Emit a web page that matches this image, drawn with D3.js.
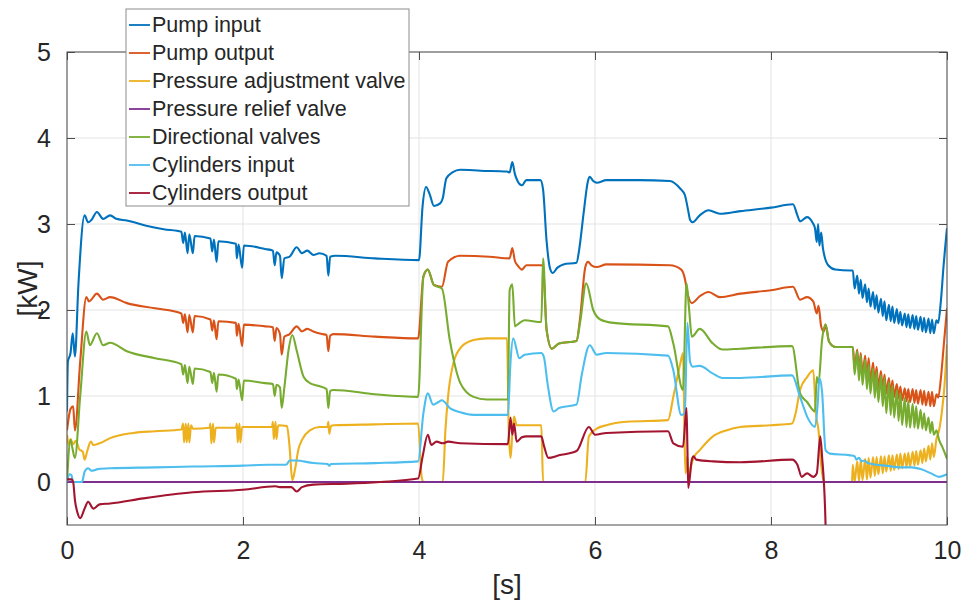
<!DOCTYPE html>
<html>
<head>
<meta charset="utf-8">
<script src="https://cdn.jsdelivr.net/npm/d3@7"></script>
<style>
  body { margin: 0; background: #fff; }
  svg { display: block; font-family: "Liberation Sans", Arial, sans-serif; }
</style>
</head>
<body>
<script>
var width = 967
var height = 608
var margin = { top: 52, right: 20, bottom: 83, left: 67 }

// series names and MATLAB default colours
var seriesNames = ['Pump input', 'Pump output', 'Pressure adjustment valve', 'Pressure relief valve',
                   'Directional valves', 'Cylinders input', 'Cylinders output']
var seriesColors = ['#0072BD', '#D95319', '#EDB120', '#7E2F8E', '#77AC30', '#4DBEEE', '#A2142F']

var xTicks = [0, 2, 4, 6, 8, 10]
var yTicks = [0, 1, 2, 3, 4, 5]

// time samples of the oscillating section (s)
var oscT = [8.93, 8.95, 8.98, 9.0, 9.02, 9.04, 9.07, 9.09, 9.11, 9.13, 9.16, 9.18, 9.2, 9.22, 9.25,
            9.27, 9.29, 9.31, 9.34, 9.36, 9.38, 9.4, 9.43, 9.45, 9.47, 9.49, 9.52, 9.54, 9.56, 9.58,
            9.61, 9.63, 9.65, 9.67, 9.7, 9.72, 9.74, 9.76, 9.79, 9.81, 9.83, 9.85, 9.88]

// [s, kW]
var pumpInput = [[0,0.82],[0.01,1.4],[0.04,1.5],[0.065,1.73],[0.09,1.46],[0.13,2.3],[0.2,3.1],[0.24,3.02],
  [0.28,3.05],[0.34,3.14],[0.41,3.06],[0.49,3.1],[0.56,3.06],[0.68,3.04],[0.9,2.98],[1.1,2.94],[1.3,2.91],
  [1.32,2.78],[1.34,2.9],[1.37,2.66],[1.39,2.88],[1.43,2.66],[1.45,2.86],[1.63,2.83],[1.65,2.68],[1.67,2.82],
  [1.7,2.56],[1.72,2.8],[1.92,2.77],[1.93,2.6],[1.95,2.76],[1.99,2.49],[2.01,2.75],[2.25,2.71],[2.34,2.69],
  [2.36,2.52],[2.38,2.67],[2.42,2.63],[2.44,2.37],[2.47,2.6],[2.53,2.62],[2.61,2.73],[2.67,2.66],[2.73,2.69],
  [2.8,2.64],[2.87,2.66],[2.95,2.63],[2.97,2.4],[2.99,2.62],[3.05,2.63],[3.5,2.6],[4.0,2.58],[4.04,3.2],
  [4.08,3.43],[4.12,3.35],[4.17,3.21],[4.24,3.24],[4.27,3.3],[4.31,3.53],[4.38,3.6],[4.47,3.63],[4.7,3.62],
  [5.0,3.61],[5.03,3.6],[5.06,3.72],[5.09,3.58],[5.12,3.5],[5.17,3.45],[5.22,3.51],[5.38,3.51],[5.41,3.4],
  [5.45,2.8],[5.49,2.48],[5.52,2.43],[5.57,2.49],[5.64,2.53],[5.79,2.55],[5.82,2.7],[5.87,3.12],[5.92,3.5],
  [5.94,3.55],[5.98,3.5],[6.02,3.48],[6.13,3.51],[6.5,3.51],[6.85,3.5],[6.97,3.41],[7.02,3.34],[7.06,3.15],
  [7.08,3.05],[7.11,3.02],[7.19,3.1],[7.29,3.16],[7.42,3.12],[7.65,3.15],[8.0,3.19],[8.25,3.23],[8.3,3.1],
  [8.33,3.03],[8.41,3.08],[8.47,3.02],[8.5,2.95],[8.52,2.79],[8.535,3.0],[8.55,2.75],[8.57,2.9],[8.59,2.72],
  [8.65,2.52],[8.73,2.47],[8.9,2.46]]
var pumpInputOsc = [2.46, 2.25, 2.4, 2.19, 2.35, 2.14, 2.3, 2.09, 2.25, 2.04, 2.21, 2.01, 2.17, 1.97, 2.13,
  1.93, 2.1, 1.88, 2.06, 1.87, 2.04, 1.85, 2.01, 1.84, 1.98, 1.82, 1.96, 1.8, 1.95, 1.79, 1.94, 1.78, 1.93,
  1.77, 1.92, 1.75, 1.91, 1.74, 1.9, 1.73, 1.89, 1.73, 1.88]
var pumpInputEnd = [[9.9,1.85],[9.93,2.1],[9.96,2.5],[10,2.95]]

var pumpOutput = [[0,0.6],[0.04,0.85],[0.07,0.88],[0.09,0.6],[0.15,1.4],[0.22,2.15],[0.25,2.1],[0.34,2.19],
  [0.41,2.12],[0.49,2.15],[0.68,2.08],[1.0,2.02],[1.3,1.96],[1.32,1.85],[1.34,1.95],[1.37,1.74],[1.39,1.94],
  [1.43,1.74],[1.45,1.93],[1.63,1.89],[1.65,1.76],[1.67,1.88],[1.7,1.66],[1.72,1.87],[1.92,1.85],[1.93,1.7],
  [1.95,1.84],[1.99,1.58],[2.01,1.83],[2.25,1.81],[2.34,1.8],[2.36,1.64],[2.38,1.79],[2.42,1.72],[2.44,1.48],
  [2.47,1.69],[2.53,1.72],[2.61,1.81],[2.67,1.75],[2.73,1.78],[2.8,1.75],[2.9,1.72],[2.95,1.71],[2.97,1.52],
  [2.99,1.7],[3.03,1.72],[3.5,1.69],[3.99,1.67],[4.05,2.39],[4.1,2.47],[4.17,2.29],[4.26,2.27],[4.33,2.56],
  [4.47,2.63],[4.8,2.62],[5.03,2.6],[5.06,2.72],[5.09,2.57],[5.12,2.52],[5.17,2.47],[5.22,2.52],[5.39,2.52],
  [5.41,2.5],[5.45,1.77],[5.51,1.55],[5.59,1.61],[5.79,1.64],[5.83,1.9],[5.89,2.5],[5.92,2.56],[5.96,2.52],
  [6.02,2.5],[6.13,2.53],[6.85,2.52],[6.98,2.47],[7.02,2.37],[7.05,2.2],[7.1,2.08],[7.19,2.16],[7.29,2.21],
  [7.42,2.15],[7.65,2.19],[8.0,2.23],[8.25,2.27],[8.33,2.12],[8.41,2.15],[8.48,2.1],[8.52,1.96],[8.54,2.05],
  [8.57,1.81],[8.6,1.75],[8.62,1.83],[8.66,1.63],[8.73,1.57],[8.9,1.57]]
var pumpOutputOsc = [1.57, 1.32, 1.54, 1.27, 1.5, 1.23, 1.47, 1.19, 1.44, 1.15, 1.39, 1.12, 1.34, 1.09, 1.29,
  1.06, 1.25, 1.03, 1.21, 1.01, 1.18, 0.99, 1.14, 0.97, 1.11, 0.95, 1.09, 0.94, 1.08, 0.93, 1.08, 0.92, 1.07,
  0.91, 1.07, 0.9, 1.06, 0.89, 1.05, 0.88, 1.05, 0.88, 1.02]
var pumpOutputEnd = [[9.9,0.98],[9.93,1.2],[9.96,1.55],[10,2.02]]

var adjustValve = [[0,0.55],[0.02,0.43],[0.04,0.5],[0.07,0.44],[0.1,0.48],[0.14,0.38],[0.18,0.35],[0.2,0.26],
  [0.23,0.36],[0.27,0.47],[0.3,0.43],[0.37,0.45],[0.49,0.51],[0.75,0.57],[1.0,0.59],[1.3,0.61],[1.32,0.68],
  [1.33,0.46],[1.35,0.68],[1.36,0.46],[1.38,0.68],[1.39,0.46],[1.41,0.66],[1.43,0.62],[1.62,0.63],[1.63,0.68],
  [1.64,0.45],[1.66,0.68],[1.67,0.46],[1.69,0.63],[1.92,0.63],[1.93,0.68],[1.94,0.46],[1.96,0.68],[1.97,0.46],
  [1.99,0.64],[2.33,0.64],[2.34,0.7],[2.35,0.5],[2.37,0.7],[2.38,0.5],[2.4,0.66],[2.5,0.65],[2.53,0.4],
  [2.56,0.02],[2.59,0.14],[2.63,0.38],[2.67,0.49],[2.76,0.6],[2.87,0.64],[2.96,0.64],[2.97,0.7],[2.98,0.56],
  [3.0,0.65],[3.03,0.66],[3.5,0.67],[3.99,0.68],[4.03,0.06],[4.05,0],[4.27,0],[4.3,0.6],[4.33,0.99],[4.39,1.38],
  [4.48,1.57],[4.62,1.65],[4.77,1.67],[5.0,1.67],[5.02,0.6],[5.04,0.28],[5.06,0.55],[5.08,0.76],[5.11,0.66],
  [5.2,0.66],[5.39,0.66],[5.41,0],[5.89,0],[5.93,0.53],[6.02,0.62],[6.13,0.66],[6.36,0.7],[6.83,0.72],
  [6.89,0.99],[6.97,1.38],[7.0,1.5],[7.02,0.4],[7.03,0.1],[7.05,0.3],[7.06,0.02],[7.09,0.18],[7.12,0.28],
  [7.19,0.37],[7.34,0.53],[7.49,0.6],[7.65,0.64],[8.0,0.66],[8.24,0.68],[8.28,0.8],[8.33,1.07],[8.41,1.22],
  [8.48,1.3],[8.51,0.8],[8.54,0.6],[8.57,0.2],[8.6,0],[8.92,0]]
var adjustValveOsc = [0.2, 0.0, 0.24, 0.01, 0.26, 0.02, 0.27, 0.03, 0.28, 0.05, 0.29, 0.07, 0.29, 0.09, 0.3,
  0.1, 0.3, 0.12, 0.31, 0.13, 0.31, 0.14, 0.32, 0.15, 0.33, 0.16, 0.33, 0.17, 0.34, 0.18, 0.35, 0.19, 0.36,
  0.2, 0.37, 0.22, 0.39, 0.24, 0.42, 0.26, 0.45, 0.29, 0.5]
var adjustValveEnd = [[9.91,0.6],[9.94,0.8],[9.97,1.1],[10,1.6]]

var reliefValve = [[0,0],[10,0]]

var dirValves = [[0,0],[0.04,0.49],[0.06,0.4],[0.09,0.28],[0.15,1.0],[0.22,1.75],[0.26,1.59],[0.34,1.73],
  [0.41,1.59],[0.49,1.62],[0.68,1.52],[1.0,1.44],[1.3,1.37],[1.32,1.25],[1.34,1.36],[1.37,1.15],[1.39,1.34],
  [1.43,1.14],[1.45,1.32],[1.63,1.28],[1.65,1.15],[1.67,1.27],[1.7,1.05],[1.72,1.25],[1.92,1.2],[1.93,1.08],
  [1.95,1.19],[1.99,0.95],[2.01,1.18],[2.25,1.15],[2.34,1.14],[2.36,1.0],[2.38,1.13],[2.42,1.1],[2.44,0.86],
  [2.47,1.1],[2.52,1.55],[2.56,1.71],[2.61,1.53],[2.69,1.22],[2.76,1.15],[2.85,1.12],[2.95,1.08],[2.97,0.86],
  [2.99,1.06],[3.03,1.07],[3.5,1.02],[3.99,0.99],[4.05,2.39],[4.1,2.47],[4.17,2.29],[4.26,2.25],[4.35,1.65],
  [4.47,1.15],[4.62,0.99],[4.77,0.96],[5.01,0.96],[5.03,2.23],[5.06,2.3],[5.09,1.81],[5.13,1.84],[5.2,1.88],
  [5.39,1.86],[5.41,2.6],[5.45,1.77],[5.51,1.55],[5.59,1.61],[5.79,1.64],[5.83,1.85],[5.9,2.31],[5.98,2.0],
  [6.06,1.89],[6.21,1.85],[6.83,1.81],[6.89,1.61],[7.0,1.07],[7.04,2.31],[7.07,2.0],[7.1,1.69],[7.19,1.78],
  [7.34,1.61],[7.45,1.54],[7.65,1.55],[8.24,1.58],[8.33,1.03],[8.41,0.93],[8.5,0.82],[8.52,1.22],[8.54,1.15],
  [8.58,1.65],[8.62,1.83],[8.66,1.63],[8.73,1.57],[8.9,1.57]]
var dirValvesOsc = [1.57, 1.25, 1.52, 1.18, 1.47, 1.13, 1.42, 1.08, 1.37, 1.03, 1.32, 0.98, 1.28, 0.93, 1.24,
  0.88, 1.21, 0.8, 1.16, 0.78, 1.12, 0.75, 1.07, 0.71, 1.03, 0.66, 0.98, 0.64, 0.95, 0.63, 0.91, 0.63, 0.88,
  0.62, 0.84, 0.62, 0.8, 0.6, 0.75, 0.57, 0.7, 0.55, 0.6]
var dirValvesEnd = [[9.91,0.49],[9.95,0.4],[10,0.27]]

var cylIn = [[0,0],[0.03,0.09],[0.05,0.08],[0.07,0],[0.17,0],[0.2,0.12],[0.24,0.16],[0.28,0.13],[0.35,0.15],
  [0.49,0.16],[1.0,0.17],[1.43,0.18],[2.0,0.19],[2.29,0.2],[2.49,0.2],[2.53,0.25],[2.6,0.25],[2.8,0.22],
  [2.96,0.21],[2.98,0.19],[3.0,0.21],[3.5,0.22],[3.99,0.24],[4.05,0.8],[4.1,1.03],[4.16,0.9],[4.22,0.93],
  [4.26,0.95],[4.35,0.86],[4.47,0.81],[4.62,0.78],[5.01,0.78],[5.04,1.4],[5.07,1.67],[5.14,1.44],[5.2,1.48],
  [5.39,1.5],[5.42,1.45],[5.46,1.15],[5.53,0.82],[5.59,0.86],[5.79,0.9],[5.85,1.25],[5.94,1.59],[6.02,1.48],
  [6.13,1.5],[6.83,1.47],[6.89,1.3],[6.98,0.78],[7.02,0.8],[7.05,1.85],[7.08,1.4],[7.11,1.34],[7.19,1.35],
  [7.34,1.26],[7.45,1.21],[7.65,1.21],[8.24,1.24],[8.33,0.99],[8.42,0.74],[8.5,0.64],[8.53,0.9],[8.55,1.21],
  [8.58,1.05],[8.62,0.37],[8.67,0.33],[8.9,0.31],[8.95,0.3],[8.97,0.26],[9.0,0.28],[9.03,0.24],[9.06,0.25],
  [9.1,0.22],[9.2,0.2],[9.3,0.19],[9.48,0.17],[9.6,0.17],[9.7,0.15],[9.82,0.1],[9.91,0.06],[10,0.09]]

var cylOut = [[0,0.03],[0.05,0.03],[0.07,0.0],[0.09,-0.21],[0.12,-0.36],[0.15,-0.42],[0.2,-0.31],[0.24,-0.23],
  [0.3,-0.31],[0.37,-0.26],[0.49,-0.25],[0.87,-0.19],[1.43,-0.12],[2.0,-0.09],[2.37,-0.05],[2.42,-0.06],
  [2.55,-0.06],[2.61,-0.11],[2.67,-0.06],[2.8,-0.03],[3.18,-0.02],[3.56,0.0],[3.99,0.04],[4.04,0.29],
  [4.1,0.55],[4.14,0.43],[4.2,0.47],[4.27,0.45],[4.33,0.47],[4.47,0.45],[5.01,0.44],[5.04,0.75],[5.06,0.55],
  [5.08,0.68],[5.11,0.47],[5.17,0.52],[5.22,0.53],[5.39,0.53],[5.42,0.42],[5.47,0.28],[5.59,0.31],[5.79,0.36],
  [5.93,0.64],[6.0,0.55],[6.13,0.57],[6.83,0.59],[6.89,0.45],[7.0,0.41],[7.04,0.86],[7.05,0.4],[7.06,-0.07],
  [7.1,0.26],[7.12,0.3],[7.15,0.26],[7.34,0.24],[7.65,0.23],[8.24,0.26],[8.3,0.2],[8.35,0.06],[8.41,0.1],
  [8.48,0.06],[8.52,0.1],[8.56,0.53],[8.58,0.3],[8.62,-0.5],[8.64,-1.5]]

var series = [
  pumpInput.concat(oscT.map((t, i) => [t, pumpInputOsc[i]]), pumpInputEnd),
  pumpOutput.concat(oscT.map((t, i) => [t, pumpOutputOsc[i]]), pumpOutputEnd),
  adjustValve.concat(oscT.map((t, i) => [t, adjustValveOsc[i]]), adjustValveEnd),
  reliefValve,
  dirValves.concat(oscT.map((t, i) => [t, dirValvesOsc[i]]), dirValvesEnd),
  cylIn,
  cylOut
]

var x = d3.scaleLinear().domain([0, 10]).range([margin.left, width - margin.right])
var y = d3.scaleLinear().domain([-0.5, 5]).range([height - margin.bottom, margin.top])

var svg = d3.select('body').append('svg')
    .attr('width', width)
    .attr('height', height)

svg.append('clipPath').attr('id', 'plot-clip')
  .append('rect')
    .attr('x', x(0)).attr('y', y(5))
    .attr('width', x(10) - x(0)).attr('height', y(-0.5) - y(5))

// grid
svg.append('g').selectAll('line.vgrid').data(xTicks).enter().append('line')
    .attr('x1', d => x(d)).attr('x2', d => x(d))
    .attr('y1', y(-0.5)).attr('y2', y(5))
    .style('stroke', '#e3e3e3').style('stroke-width', 1)
svg.append('g').selectAll('line.hgrid').data(yTicks).enter().append('line')
    .attr('x1', x(0)).attr('x2', x(10))
    .attr('y1', d => y(d)).attr('y2', d => y(d))
    .style('stroke', '#e3e3e3').style('stroke-width', 1)

// axes (ticks inward on all four sides, like MATLAB with box on)
var tickLen = 8
var fmt = d3.format('d')
var xAxisB = d3.axisBottom(x).tickValues(xTicks).tickFormat(fmt).tickSizeInner(-tickLen).tickSizeOuter(0).tickPadding(16)
var xAxisT = d3.axisTop(x).tickValues(xTicks).tickSizeInner(-tickLen).tickSizeOuter(0).tickFormat('')
var yAxisL = d3.axisLeft(y).tickValues(yTicks).tickFormat(fmt).tickSizeInner(-tickLen).tickSizeOuter(0).tickPadding(16)
var yAxisR = d3.axisRight(y).tickValues(yTicks).tickSizeInner(-tickLen).tickSizeOuter(0).tickFormat('')

function styleAxis(g) {
  g.select('.domain').remove()
  g.selectAll('.tick line').style('stroke', '#4d4d4d')
  g.selectAll('.tick text').style('fill', '#262626').style('font-size', '25px')
    .style('font-family', '"Liberation Sans", Arial, sans-serif')
}

svg.append('g').attr('transform', `translate(0,${y(-0.5)})`).call(xAxisB).call(styleAxis)
svg.append('g').attr('transform', `translate(0,${y(5)})`).call(xAxisT).call(styleAxis)
svg.append('g').attr('transform', `translate(${x(0)},0)`).call(yAxisL).call(styleAxis)
svg.append('g').attr('transform', `translate(${x(10)},0)`).call(yAxisR).call(styleAxis)

// lines
var line = d3.line()
    .x(d => x(d[0]))
    .y(d => y(d[1]))
    .curve(d3.curveMonotoneX)

svg.append('g').attr('clip-path', 'url(#plot-clip)')
  .selectAll('path').data(series).enter().append('path')
    .attr('d', line)
    .style('fill', 'none')
    .style('stroke', (_, i) => seriesColors[i])
    .style('stroke-width', 2.1)
    .style('stroke-linejoin', 'round')

// box
svg.append('rect')
    .attr('x', x(0)).attr('y', y(5))
    .attr('width', x(10) - x(0)).attr('height', y(-0.5) - y(5))
    .style('fill', 'none').style('stroke', '#4d4d4d').style('stroke-width', 1)

// axis labels
svg.append('text')
    .attr('transform', `translate(27,${(y(5) + y(-0.5)) / 2}) rotate(-90)`)
    .attr('text-anchor', 'middle').attr('dominant-baseline', 'central')
    .style('font-size', '28px').style('fill', '#262626')
    .text('[kW]')
svg.append('text')
    .attr('x', (x(0) + x(10)) / 2).attr('y', 584)
    .attr('text-anchor', 'middle').attr('dominant-baseline', 'central')
    .style('font-size', '28px').style('fill', '#262626')
    .text('[s]')

// legend
var legend = svg.append('g').attr('transform', 'translate(126,9)')
legend.append('rect')
    .attr('width', 283).attr('height', 197)
    .style('fill', '#fff').style('stroke', '#8c8c8c').style('stroke-width', 1)

var item = legend.selectAll('g.item').data(seriesNames).enter().append('g')
    .attr('class', 'item')
    .attr('transform', (_, i) => `translate(0,${16 + i * 28})`)
item.append('line')
    .attr('x1', 3).attr('x2', 24)
    .style('stroke', (_, i) => seriesColors[i]).style('stroke-width', 1.8)
item.append('text')
    .attr('x', 26).attr('dominant-baseline', 'central')
    .style('font-size', '21.5px').style('fill', '#262626')
    .text(d => d)
</script>
</body>
</html>
